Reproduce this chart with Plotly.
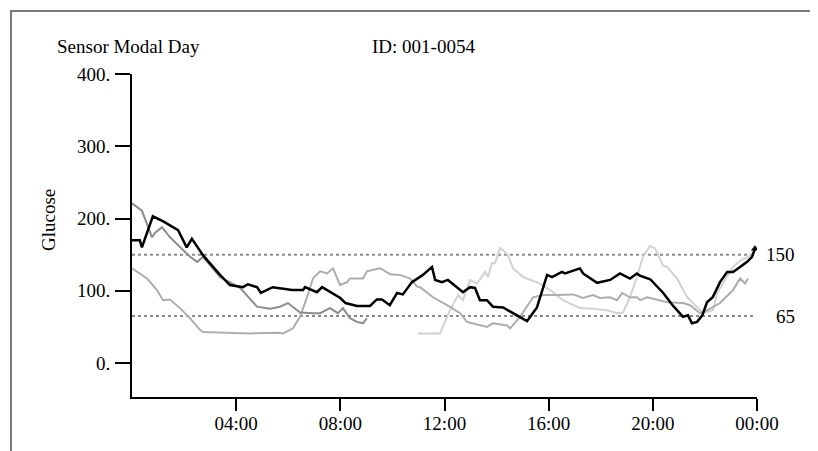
import plotly.graph_objects as go

# ---- data (hours since midnight, glucose mg/dL) ----
black_hours = [0.0, 0.3, 0.38, 0.8, 1.2, 1.77, 2.1, 2.3, 2.73, 3.38,
               3.76, 4.26, 4.45, 4.8, 4.95, 5.4, 5.95, 6.14, 6.57, 6.64,
               7.1, 7.3, 8.0, 8.2, 8.64, 9.14, 9.4, 9.6, 9.9, 10.18,
               10.4, 10.75, 11.17, 11.52, 11.64, 11.9, 12.13, 12.71, 12.98, 13.17,
               13.36, 13.63, 13.86, 14.25, 14.63, 15.17, 15.55, 15.78, 15.94, 16.13,
               16.51, 16.63, 17.2, 17.32, 17.86, 18.36, 18.74, 19.12, 19.39, 19.5,
               19.9, 20.4, 20.78, 21.16, 21.35, 21.5, 21.7, 21.9, 22.08, 22.3,
               22.58, 22.85, 23.08, 23.35, 23.62, 23.81, 23.92]
black_glucose = [170, 170, 160, 203, 196, 184, 160, 172, 149, 122,
                 108, 105, 109, 105, 97, 105, 102, 101, 101, 105,
                 98, 105, 90, 83, 79, 79, 88, 88, 80, 97,
                 95, 112, 122, 133, 115, 112, 115, 98, 105, 104,
                 87, 87, 78, 77, 69, 58, 77, 104, 122, 119,
                 126, 124, 131, 124, 111, 115, 124, 117, 124, 121,
                 116, 97, 79, 64, 66, 55, 57, 66, 84, 91,
                 112, 126, 126, 133, 140, 147, 158]

dark_hours = [0.0, 0.38, 0.77, 0.88, 1.15, 1.46, 2.23, 2.5, 2.73, 3.38,
              4.15, 4.8, 5.3, 5.68, 5.99, 6.45, 6.95, 7.22, 7.6, 7.91,
              8.1, 8.37, 8.64, 8.87, 9.02]
dark_glucose = [221, 211, 174, 180, 188, 174, 147, 140, 147, 119,
                104, 78, 75, 78, 83, 70, 69, 69, 76, 69,
                76, 62, 57, 55, 62]

mid_hours = [0.0, 0.58, 0.96, 1.19, 1.46, 1.84, 2.23, 2.61, 2.73, 3.5,
             4.5, 5.57, 5.8, 6.18, 6.45, 6.72, 6.95, 7.22, 7.49, 7.72,
             7.87, 7.99, 8.26, 8.37, 8.87, 9.02, 9.52, 9.64, 9.91, 10.29,
             10.68, 10.94, 11.06, 11.56, 12.1, 12.6, 12.86, 13.1, 13.63, 13.86,
             14.4, 14.52, 14.9, 15.4, 15.78, 16.32, 16.94, 17.32, 17.7, 17.97,
             18.36, 18.63, 18.82, 19.12, 19.39, 19.51, 19.78, 20.55, 21.16, 21.43,
             21.81, 22.08, 22.58, 23.08, 23.35, 23.54, 23.66]
mid_glucose = [131, 117, 101, 87, 88, 76, 62, 46, 43, 42,
               41, 42, 41, 48, 64, 91, 117, 127, 124, 131,
               117, 108, 112, 117, 117, 127, 131, 129, 123, 122,
               117, 106, 105, 91, 80, 69, 57, 55, 50, 55,
               52, 48, 64, 91, 94, 94, 95, 90, 94, 90,
               91, 87, 97, 91, 91, 87, 91, 84, 83, 80,
               69, 73, 83, 101, 117, 110, 117]

light_hours = [10.98, 11.83, 12.21, 12.52, 12.71, 12.98, 13.25, 13.56, 13.67, 13.82,
               13.94, 14.13, 14.25, 14.44, 14.63, 15.02, 15.67, 16.17, 16.55, 16.94,
               17.2, 17.7, 18.24, 18.63, 18.86, 19.12, 19.39, 19.62, 19.89, 20.08,
               20.39, 20.55, 20.93, 21.32, 21.7, 21.93, 22.31, 22.47, 22.77, 23.08,
               23.35, 23.66, 23.85]
light_glucose = [41, 41, 73, 94, 87, 115, 110, 126, 119, 138,
                 138, 159, 156, 149, 131, 119, 110, 98, 87, 80,
                 76, 75, 73, 69, 70, 91, 119, 147, 162, 159,
                 135, 133, 117, 91, 77, 69, 73, 97, 115, 133,
                 142, 147, 153]

target_levels = [150, 65]
target_labels = ["150", "65"]
target_span = [0.0, 23.9]

x_tick_vals = [4, 8, 12, 16, 20, 24]
x_tick_text = ["04:00", "08:00", "12:00", "16:00", "20:00", "00:00"]
y_tick_vals = [0, 100, 200, 300, 400]
y_tick_text = ["0.", "100.", "200.", "300.", "400."]

FONT = "Liberation Serif"

fig = go.Figure()

for lvl in target_levels:
    fig.add_trace(go.Scatter(x=target_span, y=[lvl, lvl], mode="lines",
                             line=dict(color="#8a8a8a", width=2, dash="dot"),
                             hoverinfo="skip", showlegend=False))

fig.add_trace(go.Scatter(x=light_hours, y=light_glucose, mode="lines",
                         line=dict(color="#d2d2d2", width=2), showlegend=False))
fig.add_trace(go.Scatter(x=mid_hours, y=mid_glucose, mode="lines",
                         line=dict(color="#adadad", width=2), showlegend=False))
fig.add_trace(go.Scatter(x=dark_hours, y=dark_glucose, mode="lines",
                         line=dict(color="#8c8c8c", width=2), showlegend=False))
fig.add_trace(go.Scatter(x=black_hours, y=black_glucose, mode="lines",
                         line=dict(color="black", width=2.5), showlegend=False))
fig.add_trace(go.Scatter(x=black_hours[-1:], y=black_glucose[-1:], mode="markers",
                         marker=dict(symbol="triangle-up", size=7, color="black"),
                         showlegend=False))

# page body has an 8px margin: convert screen px -> figure px
OFF = 8
W, H = 818 - OFF, 451 - OFF
L, R, T, B = 132 - OFF, 757 - OFF, 74 - OFF, 397 - OFF
def px(x):
    return (x - OFF - L) / (R - L)
def py(y):
    return (B - (y - OFF)) / (B - T)

xaxis = dict(range=[0, 24], tickvals=x_tick_vals, ticktext=x_tick_text,
             showgrid=False, zeroline=False, showline=True, linecolor="black",
             linewidth=2, ticks="outside", ticklen=12, tickwidth=2,
             tickcolor="black", tickfont=dict(family=FONT, size=19))
yaxis = dict(range=[-47, 400], tickvals=y_tick_vals, ticktext=y_tick_text,
             showgrid=False, zeroline=False, showline=True, linecolor="black",
             linewidth=2, ticks="outside", ticklen=15, tickwidth=2,
             tickcolor="black", ticklabelstandoff=1,
             tickfont=dict(family=FONT, size=19))

frame_path = "M {:.5f},{:.5f} L {:.5f},{:.5f} L {:.5f},{:.5f}".format(
    px(11), py(470), px(11), py(11), px(830), py(11))

fig.update_layout(
    width=W, height=H,
    margin=dict(l=L, r=W - R, t=T, b=H - B, pad=0),
    paper_bgcolor="white", plot_bgcolor="white",
    font=dict(family=FONT, size=19, color="black"),
    showlegend=False,
    xaxis=xaxis, yaxis=yaxis,
    shapes=[dict(type="path", xref="paper", yref="paper", path=frame_path,
                 fillcolor="rgba(0,0,0,0)", line=dict(color="#7a7a7a", width=2),
                 layer="below")],
    annotations=[
        dict(text="Sensor Modal Day", xref="paper", yref="paper",
             x=px(55), y=py(46), xanchor="left", yanchor="middle",
             showarrow=False, font=dict(family=FONT, size=19)),
        dict(text="ID: 001-0054", xref="paper", yref="paper",
             x=px(370), y=py(46), xanchor="left", yanchor="middle",
             showarrow=False, font=dict(family=FONT, size=19)),
        dict(text="Glucose", xref="paper", yref="paper",
             x=px(48), y=py(220), xanchor="center", yanchor="middle",
             textangle=-90, showarrow=False, font=dict(family=FONT, size=19)),
    ] + [
        dict(text=lab, xref="paper", yref="y", x=px(797), y=lvl,
             xanchor="right", yanchor="middle", showarrow=False,
             font=dict(family=FONT, size=19))
        for lvl, lab in zip(target_levels, target_labels)
    ],
)

try:
    fig.update_xaxes(ticklabelstandoff=-4)
except Exception:
    pass

fig.write_html("out.html")
